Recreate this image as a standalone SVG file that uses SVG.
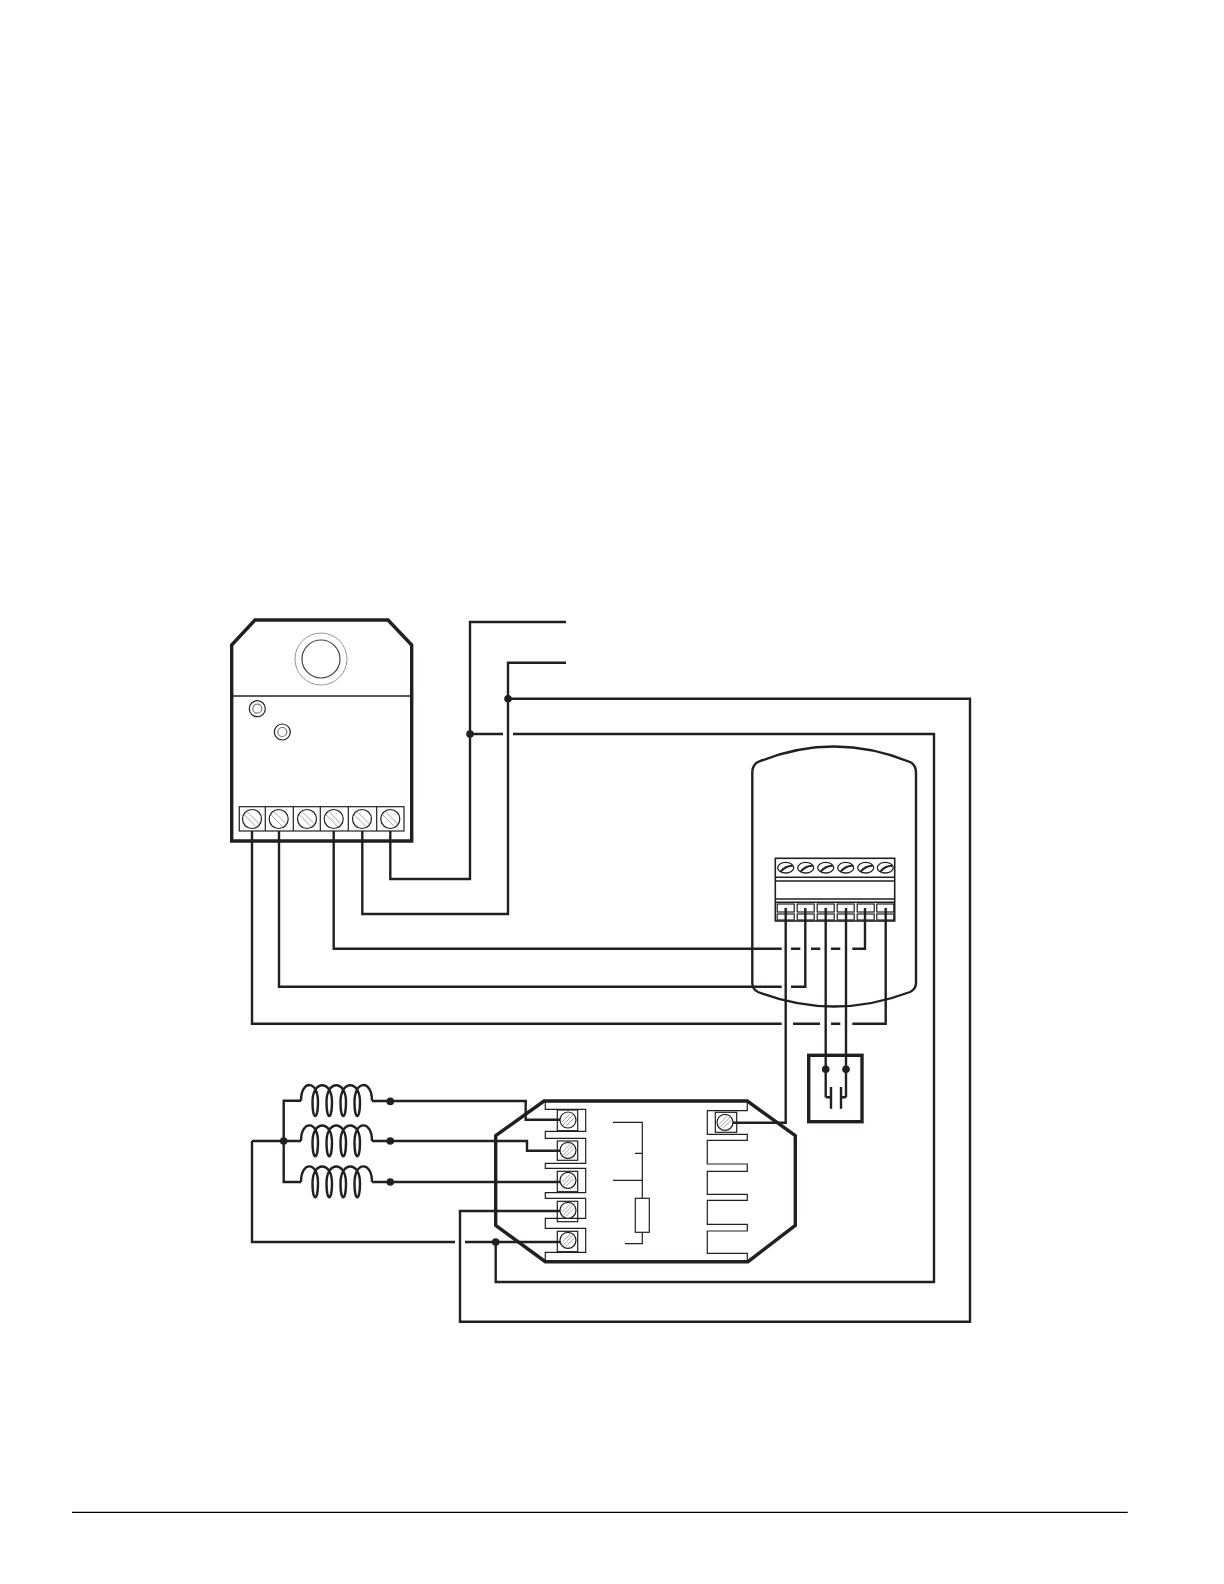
<svg xmlns="http://www.w3.org/2000/svg" xmlns:xlink="http://www.w3.org/1999/xlink" width="1224" height="1584" viewBox="0 0 1224 1584">
<style>
.thin{fill:none;stroke:#231f20;stroke-width:1.2}
.wire{fill:none;stroke:#231f20;stroke-width:2.4;stroke-linejoin:miter}
.heavy{fill:none;stroke:#231f20;stroke-width:3.4;stroke-linejoin:miter}
.mid{fill:none;stroke:#231f20;stroke-width:2.4}
.dot{fill:#231f20}
.hatch{stroke:#999;stroke-width:.9;fill:none}
.sc{fill:#fff;stroke:#231f20;stroke-width:1.2}
</style>
<defs>
<g id="screwA"><circle class="sc" r="9.5"/><path class="hatch" d="M-5-7.5 7 4.5M-7.5-4 4 7.5"/></g>
<g id="screwB"><circle class="sc" r="8"/><path class="hatch" d="M-6 2 2-6M-5 5 5-5M-2 6 6-2"/></g>
<g id="screwC"><ellipse rx="8" ry="5.3" fill="#fff" stroke="#231f20" stroke-width="1.3"/><path d="M-5 4C-2 0 2-2 7-2" fill="none" stroke="#231f20" stroke-width="2"/></g>
<g id="cell"><rect class="thin" x="0.5" y="0" width="17" height="8"/><rect class="thin" x="0.5" y="10" width="17" height="6"/></g>
<path id="coil" class="wire" d="M301 0C301-21 318-21 318 1C318 20 312.5 20 312.5 1C312.5-21 332-21 332 1C332 20 326.5 20 326.5 1C326.5-21 346-21 346 1C346 20 340.5 20 340.5 1C340.5-21 360-21 360 1C360 20 354.5 20 354.5 1C354.5-21 372-21 372 0"/>
</defs>
<rect width="1224" height="1584" fill="#fff"/>
<line id="footer-rule" x1="72" y1="1512.3" x2="1127.7" y2="1512.3" stroke="#000" stroke-width="1.2"/>

<g id="detector">
<path class="heavy" d="M231.7 645 255 620H388L411.7 645V841H231.7Z"/>
<line class="thin" x1="232" y1="696" x2="411" y2="696" style="stroke-width:1.4"/>
<circle cx="321" cy="659" r="26" fill="none" stroke="#999" stroke-width="1"/>
<circle cx="321" cy="659" r="19" fill="none" stroke="#444" stroke-width="1.2"/>
<circle class="thin" cx="257.3" cy="708.7" r="8"/><circle class="thin" cx="257.3" cy="708.7" r="4.5" style="stroke:#777"/>
<circle class="thin" cx="282.3" cy="732" r="8"/><circle class="thin" cx="282.3" cy="732" r="4.5" style="stroke:#777"/>
<rect class="thin" x="239.3" y="806.7" width="164.7" height="24.3"/>
<path class="thin" d="M265.3 806.7V831M293.3 806.7V831M320.3 806.7V831M348.3 806.7V831M376.7 806.7V831"/>
<use href="#screwA" x="252" y="819"/><use href="#screwA" x="278.7" y="819"/><use href="#screwA" x="307" y="819"/><use href="#screwA" x="333.7" y="819"/><use href="#screwA" x="362" y="819"/><use href="#screwA" x="390.3" y="819"/>
</g>

<g id="enclosure">
<path class="mid" d="M752.3 983V773Q752.3 765 758 762Q834 731 910 762Q916 765 916 773V983Q916 989 910 992Q834 1021 758 992Q752.3 989 752.3 983Z"/>
<rect class="mid" x="775.3" y="858.3" width="119.4" height="62.7" style="stroke-width:1.6"/>
<path class="thin" d="M775.3 877.3H894.7M775.3 881H894.7M775.3 899H894.7M775.3 902.3H894.7" style="stroke-width:1.4"/>
<use href="#screwC" x="785.7" y="867.7"/><use href="#screwC" x="805.7" y="867.7"/><use href="#screwC" x="825.7" y="867.7"/><use href="#screwC" x="845.7" y="867.7"/><use href="#screwC" x="865.7" y="867.7"/><use href="#screwC" x="885.3" y="867.7"/>
<use href="#cell" x="776.7" y="904"/><use href="#cell" x="796.7" y="904"/><use href="#cell" x="816.7" y="904"/><use href="#cell" x="836.7" y="904"/><use href="#cell" x="856.7" y="904"/><use href="#cell" x="876.3" y="904"/>
</g>

<g id="capacitor-box">
<rect class="heavy" x="808.7" y="1055.3" width="53.3" height="66.4"/>
<path class="wire" d="M831 1087V1108.7M841 1087V1108.7M825.7 1097.3H831M846 1097.3H841"/>
</g>

<g id="relay">
<path class="heavy" d="M495.7 1135.7 544 1101H747.3L795.3 1135.7V1225.3L748 1261.7H545.3L495.7 1225.3Z"/>
<path class="thin" d="M545.3 1101V1109.3H585.7V1131.3H545.3V1138.3H585.7V1163.3H545.3V1168.3H585.7V1192.7H545.3V1198.3H585.7V1218.3H545.3V1228.3H585.7V1252.3H545.3V1261.7"/>
<path class="thin" d="M747.3 1101V1110.7H707.3V1134.3H747.3V1140.3H707.3V1164H747.3V1171.3H707.3V1194.3H747.3V1200.3H707.3V1224.3H747.3V1231H707.3V1253.3H747.3V1261.7"/>
<rect class="thin" x="557.3" y="1110" width="20.4" height="20.7"/><rect class="thin" x="557.3" y="1141" width="20.4" height="19.3"/><rect class="thin" x="557.3" y="1171.3" width="20.4" height="20.4"/><rect class="thin" x="557.3" y="1201.3" width="20.4" height="20.4"/><rect class="thin" x="557.3" y="1231.3" width="20.4" height="20.4"/>
<rect class="thin" x="715.3" y="1112.3" width="21.4" height="20"/>
<path class="thin" d="M613 1122.3H642.3V1198.3M635 1153.3H642.3M613 1180.3H642.3M642.3 1232.3V1243.7H625"/>
<rect class="thin" x="635.3" y="1198.3" width="14" height="34"/>
</g>

<g id="coils">
<use href="#coil" y="1100.7"/><use href="#coil" y="1141"/><use href="#coil" y="1182"/>
</g>

<g id="connectors">
<path class="wire" d="M566 622H470V879H390.3V831"/>
<path class="wire" d="M566 662.7H508V914H362.3V831"/>
<path class="wire" d="M333.7 831V948.7H781.7M791 948.7H800.3M811 948.7H820.3M831 948.7H840.3M852.3 948.7H865V908"/>
<path class="wire" d="M279 831V986.7H781.7M791 986.7H805.3V908"/>
<path class="wire" d="M252 831V1023.7H781.7M793 1023.7H820M831 1023.7H840.3M852.3 1023.7H885.7V908"/>
<path class="wire" d="M785.7 908V1122.7H733"/>
<path class="wire" d="M825.7 908V1097.3M846 908V1097.3"/>
<path class="wire" d="M508 698.7H970V1321.7H460V1211H560"/>
<path class="wire" d="M470 734H503M513 734H934V1282H495.7V1242"/>
<path class="wire" d="M252 1141V1242H455M465 1242H560"/>
<path class="wire" d="M252 1141H301M301 1100.7H283.7V1182H301"/>
<path class="wire" d="M372 1101H525.7V1119.7H560M372 1141H527V1150.7H560M372 1182H560"/>
<circle class="dot" cx="470" cy="734" r="3.8"/><circle class="dot" cx="508" cy="698.7" r="3.8"/>
<circle class="dot" cx="825.7" cy="1069.3" r="3.8"/><circle class="dot" cx="846" cy="1069.3" r="3.8"/>
<circle class="dot" cx="283.7" cy="1141" r="3.8"/><circle class="dot" cx="390.3" cy="1101.4" r="3.8"/><circle class="dot" cx="390.3" cy="1141" r="3.8"/><circle class="dot" cx="390.3" cy="1182" r="3.8"/>
<circle class="dot" cx="495.7" cy="1242" r="3.8"/>
</g>

<g id="relay-screws">
<use href="#screwB" x="568" y="1120"/><use href="#screwB" x="568" y="1150.3"/><use href="#screwB" x="568" y="1180.3"/><use href="#screwB" x="568" y="1210.3"/><use href="#screwB" x="568" y="1240.3"/><use href="#screwB" x="725" y="1122.3"/>
</g>
</svg>
